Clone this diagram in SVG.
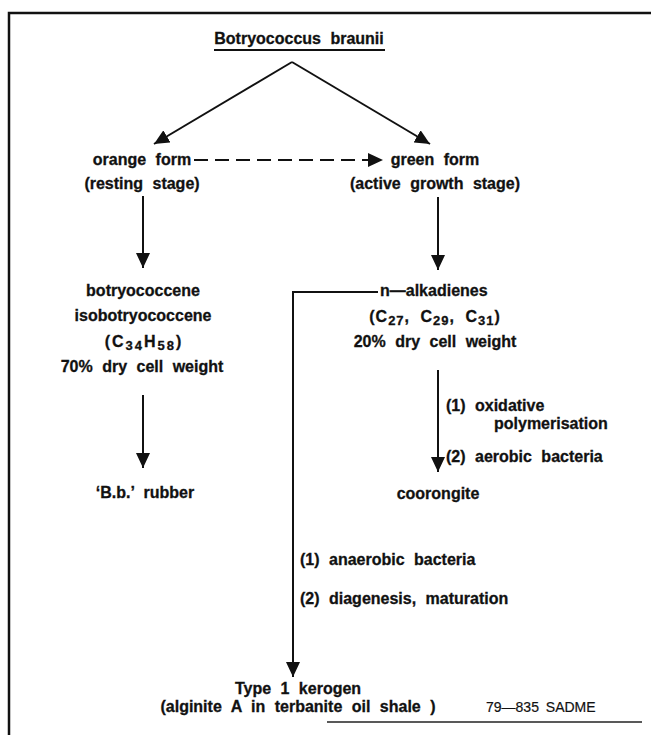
<svg xmlns="http://www.w3.org/2000/svg" width="651" height="735" viewBox="0 0 651 735">
<defs>
<style>
text{font-family:"Liberation Sans",Arial,sans-serif;font-weight:bold;font-size:16px;fill:#111;stroke:#111;stroke-width:0.3;word-spacing:5px;}
.c{text-anchor:middle;}
.sub{font-size:13px;}
.f{letter-spacing:1px;}
.ref{font-weight:normal;font-size:14px;stroke-width:0.2;word-spacing:3px;}
.ln{stroke:#111;stroke-width:2;fill:none;}
</style>
<marker id="ah" markerUnits="userSpaceOnUse" markerWidth="16" markerHeight="14" refX="15" refY="7" orient="auto">
<path d="M0,0 L15,7 L0,14 Z" fill="#111"/>
</marker>
</defs>
<rect width="651" height="735" fill="#fff"/>
<g id="frame">
<path d="M9,735 V13 H651" stroke="#111" stroke-width="2.5" fill="none"/>
<line x1="327" y1="722" x2="642" y2="722" stroke="#222" stroke-width="1.5"/>
</g>
<g id="connectors">
<line class="ln" x1="292" y1="62" x2="154" y2="144" marker-end="url(#ah)"/>
<line class="ln" x1="292" y1="62" x2="430" y2="144" marker-end="url(#ah)"/>
<line class="ln" x1="194" y1="160" x2="383" y2="160" stroke-dasharray="14,7" marker-end="url(#ah)"/>
<line class="ln" x1="143" y1="196" x2="143" y2="268" marker-end="url(#ah)"/>
<line class="ln" x1="438" y1="197" x2="438" y2="270" marker-end="url(#ah)"/>
<line class="ln" x1="143" y1="395" x2="143" y2="468" marker-end="url(#ah)"/>
<line class="ln" x1="438" y1="370" x2="438" y2="472" marker-end="url(#ah)"/>
<path class="ln" d="M378,292 H293 V677" marker-end="url(#ah)"/>
</g>
<g id="title">
<text class="c" x="299" y="44">Botryococcus braunii</text>
<line x1="214" y1="50" x2="385" y2="50" stroke="#111" stroke-width="2"/>
</g>
<g id="orange">
<text class="c" x="142" y="165">orange form</text>
<text class="c" x="142" y="189">(resting stage)</text>
</g>
<g id="green">
<text class="c" x="435" y="165">green form</text>
<text class="c" x="435" y="189">(active growth stage)</text>
</g>
<g id="botryococcene">
<text class="c" x="143" y="296">botryococcene</text>
<text class="c" x="143" y="321">isobotryococcene</text>
<text class="c f" x="144" y="347" style="letter-spacing:2px">(C<tspan class="sub" dy="3">34</tspan><tspan dy="-3">H</tspan><tspan class="sub" dy="3">58</tspan><tspan dy="-3">)</tspan></text>
<text class="c" x="142" y="372">70% dry cell weight</text>
</g>
<g id="alkadienes">
<text x="380" y="296">n—alkadienes</text>
<text class="c f" x="435" y="322">(C<tspan class="sub" dy="3">27</tspan><tspan dy="-3">, C</tspan><tspan class="sub" dy="3">29</tspan><tspan dy="-3">, C</tspan><tspan class="sub" dy="3">31</tspan><tspan dy="-3">)</tspan></text>
<text class="c" x="435" y="347">20% dry cell weight</text>
</g>
<g id="rubber">
<text class="c" x="145" y="498">‘B.b.’ rubber</text>
</g>
<g id="coorongite">
<text class="c" x="438" y="499">coorongite</text>
</g>
<g id="labels-coorongite">
<text x="446" y="411">(1) oxidative</text>
<text x="494" y="429">polymerisation</text>
<text x="446" y="462">(2) aerobic bacteria</text>
</g>
<g id="labels-kerogen">
<text x="300" y="565">(1) anaerobic bacteria</text>
<text x="300" y="604">(2) diagenesis, maturation</text>
</g>
<g id="kerogen">
<text class="c" x="298" y="694">Type 1 kerogen</text>
<text class="c" x="298" y="712">(alginite A in terbanite oil shale )</text>
</g>
<g id="ref">
<text x="486" y="712" class="ref">79—835 SADME</text>
</g>
</svg>
